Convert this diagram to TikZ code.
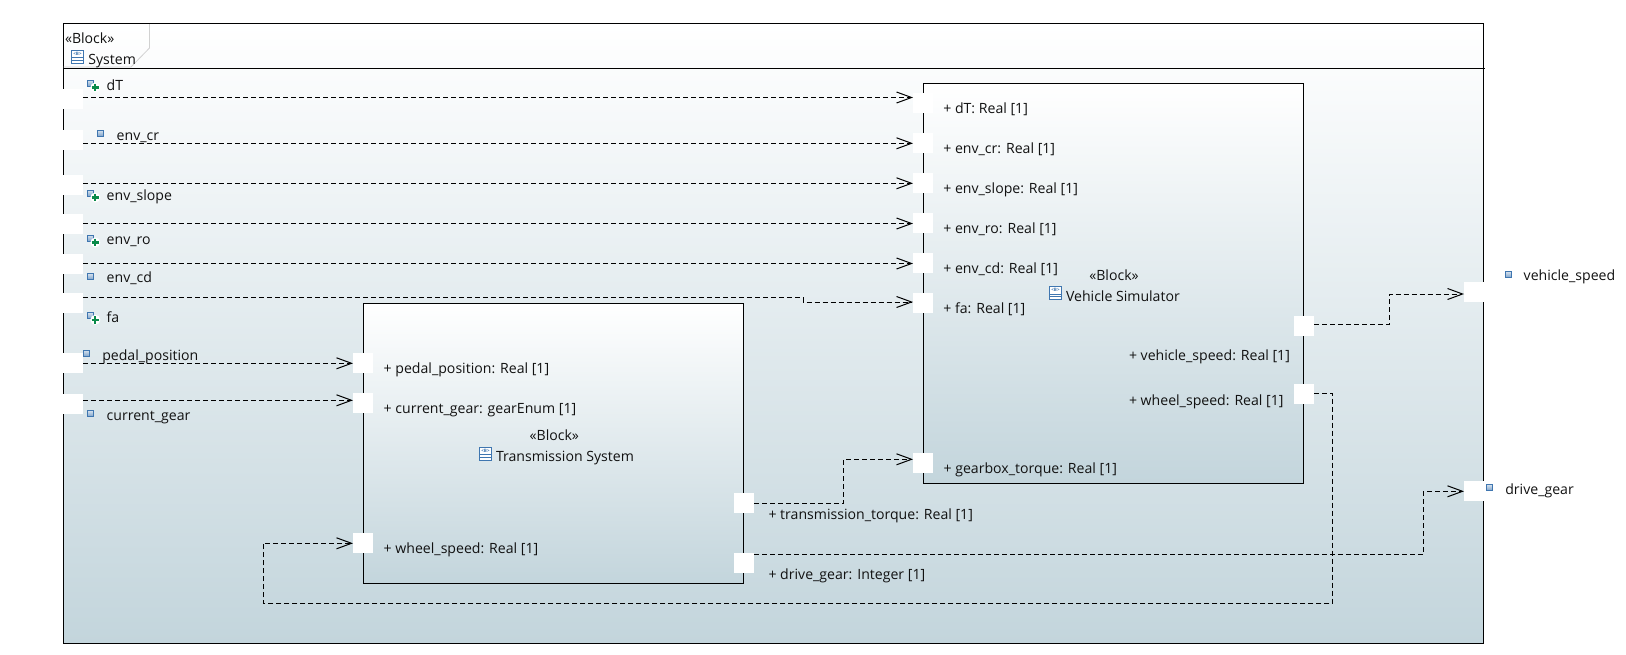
\documentclass[tikz,border=0pt]{standalone}
\usepackage{fontspec}
\setmainfont{Open Sans}
\usetikzlibrary{arrows.meta}
\definecolor{gradbot}{HTML}{C3D5DC}
\definecolor{inkc}{HTML}{111111}
\definecolor{iconb}{HTML}{3F76B0}
\definecolor{plusg}{HTML}{0A8A4A}
\tikzset{
  framebox/.style={draw=black,line width=1pt,top color=white,bottom color=gradbot,inner sep=0pt,outer sep=0pt},
  portbox/.style={fill=white,inner sep=0pt,outer sep=0pt,minimum width=20pt,minimum height=20pt},
  conn/.style={draw=black,line width=0.9pt,dash pattern=on 5pt off 3pt,-{Straight Barb[length=15pt,width=11pt,line width=1pt]}},
  lab/.style={anchor=base west,inner sep=0pt,outer sep=0pt,text=inkc,font=\fontsize{14.1pt}{16pt}\selectfont},
  labc/.style={anchor=base,inner sep=0pt,outer sep=0pt,text=inkc,font=\fontsize{14.1pt}{16pt}\selectfont},
  sq/.style={draw=iconb,line width=0.7pt,top color=white!80!iconb,bottom color=iconb!70!white,inner sep=0pt,outer sep=0pt,minimum width=6.5pt,minimum height=6.5pt,anchor=north west},
  plusmark/.style={draw=plusg,line width=2.2pt},
  iconline/.style={draw=iconb,line width=1pt},
  bicon/.style={draw=iconb,line width=1pt,fill=white,inner sep=0pt,outer sep=0pt,minimum width=12pt,minimum height=13pt,anchor=north west},
  blet/.style={inner sep=0pt,outer sep=0pt,text=iconb,font=\fontsize{4.5pt}{5pt}\bfseries\selectfont},
}
% small port icons
\newcommand{\portico}[3]{\node[sq] (#1) at (#2,#3) {};}
\newcommand{\portplus}[3]{\node[sq] (#1) at (#2,#3) {};
  \fill[white] ({#2+8},{#3+7.5}) circle (5pt);
  \draw[plusmark] ({#2+4.2},{#3+7.5}) -- ++(7.6,0) ({#2+8},{#3+3.7}) -- ++(0,7.6);}
\newcommand{\blockico}[3]{\node[bicon] (#1) at (#2,#3) {};
  \node[blet] at ({#2+6},{#3+3.8}) {<B>};
  \draw[iconline] (#2,{#3+7.5}) -- ++(12,0) (#2,{#3+10.3}) -- ++(12,0);}
\begin{document}
\begin{tikzpicture}[x=1pt,y=-1pt]
\useasboundingbox (0,0) rectangle (1626,654);
\fill[white] (0,0) rectangle (1626,654);
% frame
\node[framebox,minimum width=1420pt,minimum height=620pt] (frame) at (773,333.5) {};
\draw[black,line width=1pt] (frame.west |- 0,68.5) -- ([xshift=1.5pt]frame.east |- 0,68.5);
\draw[black!18,line width=0.8pt] (63.5,67) -- (131,67) -- (149.5,48) -- (149.5,24);
% blocks
\node[framebox,minimum width=380pt,minimum height=400pt] (vsim) at (1113.5,283.5) {};
\node[framebox,minimum width=380pt,minimum height=280pt] (tsys) at (553.5,443.5) {};
% left frame ports
\node[portbox] (pdt) at (73,99) {};
\node[portbox] (pcr) at (73,140) {};
\node[portbox] (psl) at (73,185) {};
\node[portbox] (pro) at (73,224) {};
\node[portbox] (pcd) at (73,264) {};
\node[portbox] (pfa) at (73,303) {};
\node[portbox] (ppe) at (73,363) {};
\node[portbox] (pcu) at (73,404) {};
% right frame ports
\node[portbox] (pvs) at (1474,292) {};
\node[portbox] (pdg) at (1474,491) {};
% vehicle ports
\node[portbox] (vdt) at (923,103) {};
\node[portbox] (vcr) at (923,143) {};
\node[portbox] (vsl) at (923,183) {};
\node[portbox] (vro) at (923,223) {};
\node[portbox] (vcd) at (923,263) {};
\node[portbox] (vfa) at (923,303) {};
\node[portbox] (vgt) at (923,463) {};
\node[portbox] (vvs) at (1304,326) {};
\node[portbox] (vws) at (1304,394) {};
% transmission ports
\node[portbox] (tpe) at (363,363) {};
\node[portbox] (tcu) at (363,403) {};
\node[portbox] (tws) at (363,543) {};
\node[portbox] (ttt) at (744,503) {};
\node[portbox] (tdg) at (744,563) {};
% connectors
\draw[conn] (pdt.east |- 0,97.5) -- (vdt.west |- 0,97.5);
\draw[conn] (pcr.east |- 0,143.3) -- (vcr.west |- 0,143.3);
\draw[conn] (psl.east |- 0,183.3) -- (vsl.west |- 0,183.3);
\draw[conn] (pro.east |- 0,223.5) -- (vro.west |- 0,223.5);
\draw[conn] (pcd.east |- 0,263.5) -- (vcd.west |- 0,263.5);
\draw[conn] (pfa.east |- 0,297.5) -- (803,297.5) -- (803,302) -- (vfa.west |- 0,302);
\draw[conn] (ppe.east |- 0,363.3) -- (tpe.west |- 0,363.3);
\draw[conn] (pcu.east |- 0,400.3) -- (tcu.west |- 0,400.3);
\draw[conn] (ttt.east |- 0,503.3) -- (843.3,503.3) -- (843.3,459.3) -- (vgt.west |- 0,459.3);
\draw[conn] (vvs.east |- 0,324.3) -- (1389.3,324.3) -- (1389.3,294) -- (pvs.west |- 0,294);
\draw[conn] (tdg.east |- 0,554.3) -- (1423.3,554.3) -- (1423.3,491.3) -- (pdg.west |- 0,491.3);
\draw[conn] (vws.east |- 0,393.3) -- (1332.7,393.3) -- (1332.7,603.3) -- (263.3,603.3) -- (263.3,543.3) -- (tws.west |- 0,543.3);
% header
\node[lab] (hst) at (65,43.2) {«Block»};
\blockico{hic}{71.5}{50}
\node[lab] (hsy) at (88.3,64) {System};
% frame port labels
\portplus{idt}{87.3}{80}
\node[lab] (ldt) at (106.7,90) {dT};
\portico{icr}{97.3}{130}
\node[lab] (lcr) at (116.7,140) {env\_cr};
\portplus{isl}{87.3}{190}
\node[lab] (lsl) at (106.7,200) {env\_slope};
\portplus{iro}{87.3}{235}
\node[lab] (lro) at (106.7,244) {env\_ro};
\portico{icd}{87.3}{273.3}
\node[lab] (lcd) at (106.7,282) {env\_cd};
\portplus{ifa}{87.3}{312.3}
\node[lab] (lfa) at (106.7,322) {fa};
\portico{ipe}{83.3}{350}
\node[lab] (lpe) at (102.3,360) {pedal\_position};
\portico{icu}{87.3}{410.3}
\node[lab] (lcu) at (106.7,420) {current\_gear};
\portico{ivs}{1505.3}{271.3}
\node[lab] (lvs) at (1523.7,280.7) {vehicle\_speed};
\portico{idg}{1486}{484.3}
\node[lab] (ldg) at (1505.3,494) {drive\_gear};
% vehicle block text
\node[lab] (adt) at (943.3,113.5) {+ dT: Real [1]};
\node[lab] (acr) at (943.3,153.5) {+ env\_cr: Real [1]};
\node[lab] (asl) at (943.3,193.5) {+ env\_slope: Real [1]};
\node[lab] (aro) at (943.3,233.5) {+ env\_ro: Real [1]};
\node[lab] (acd) at (943.3,273.5) {+ env\_cd: Real [1]};
\node[lab] (afa) at (943.3,313.5) {+ fa: Real [1]};
\node[lab] (agt) at (943.6,473.5) {+ gearbox\_torque: Real [1]};
\node[lab] (avs) at (1129,360) {+ vehicle\_speed: Real [1]};
\node[lab] (aws) at (1129,405) {+ wheel\_speed: Real [1]};
\node[labc] (vst) at (1114,280.3) {«Block»};
\blockico{vic}{1049.5}{286.5}
\node[lab] (vnm) at (1066,301.5) {Vehicle Simulator};
% transmission text
\node[lab] (bpe) at (383.7,373.5) {+ pedal\_position: Real [1]};
\node[lab] (bcu) at (383.7,413.5) {+ current\_gear: gearEnum [1]};
\node[lab] (bws) at (383.7,553.5) {+ wheel\_speed: Real [1]};
\node[lab] (btt) at (768.5,519.8) {+ transmission\_torque: Real [1]};
\node[lab] (bdg) at (768.5,579.8) {+ drive\_gear: Integer [1]};
\node[labc] (tst) at (554.3,440.2) {«Block»};
\blockico{tic}{479.5}{447}
\node[lab] (tnm) at (496,461.5) {Transmission System};
\end{tikzpicture}
\end{document}
